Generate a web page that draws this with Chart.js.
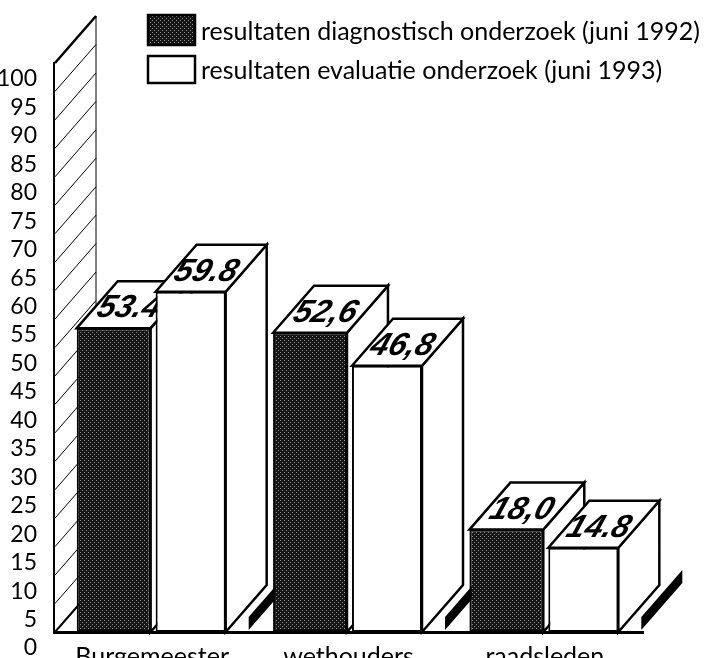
<!DOCTYPE html>
<html>
<head>
<meta charset="utf-8">
<title>Resultaten onderzoek</title>
<script src="https://cdn.jsdelivr.net/npm/chart.js@4"></script>
<style>
  html, body { margin: 0; padding: 0; background: #fff; }
  canvas { display: block; }
</style>
</head>
<body>
<canvas id="barChart" width="724" height="658"></canvas>
<script>
// Data
const categories = ["Burgemeester", "wethouders", "raadsleden"];
const diagnostisch = [53.4, 52.6, 18.0];
const evaluatie = [59.8, 46.8, 14.8];
const diagnostischLabels = ["53.4", "52,6", "18,0"];
const evaluatieLabels = ["59.8", "46,8", "14.8"];
const seriesNames = [
  "resultaten diagnostisch onderzoek (juni 1992)",
  "resultaten evaluatie onderzoek (juni 1993)"
];

const depthX = 41;
const depthY = 47;
const textFont = "Lato";

// Dotted raster of the dark bars
function dotPattern() {
  const c = document.createElement("canvas");
  c.width = 4;
  c.height = 4;
  const p = c.getContext("2d");
  p.fillStyle = "#161616";
  p.fillRect(0, 0, 4, 4);
  p.fillStyle = "#8c8c8c";
  p.fillRect(0, 0, 1, 1);
  p.fillRect(2, 2, 1, 1);
  return p.createPattern(c, "repeat");
}
const darkFill = dotPattern();

function poly(ctx, pts, fill, stroke, width) {
  ctx.beginPath();
  pts.forEach((p, i) => (i ? ctx.lineTo(p[0], p[1]) : ctx.moveTo(p[0], p[1])));
  ctx.closePath();
  if (fill) {
    ctx.fillStyle = fill;
    ctx.fill();
  }
  if (stroke) {
    ctx.strokeStyle = stroke;
    ctx.lineWidth = width;
    ctx.lineJoin = "miter";
    ctx.stroke();
  }
}

// Back wall, floor strips, bar sides and tops go under the bar fronts
const box3d = {
  id: "box3d",
  beforeDatasetsDraw(chart) {
    const ctx = chart.ctx;
    const y = chart.scales.y;
    const left = chart.chartArea.left + 1;
    const bottom = y.getPixelForValue(0);
    const top = y.getPixelForValue(100);
    ctx.save();

    // wall
    poly(ctx, [[left, top], [left + depthX, top - depthY], [left + depthX, bottom - depthY], [left, bottom]], "#fff", null, 0);
    ctx.strokeStyle = "#000";
    ctx.lineWidth = 1;
    y.ticks.forEach(t => {
      const py = y.getPixelForValue(t.value);
      ctx.lineWidth = t.value === 0 ? 2 : 1;
      ctx.beginPath();
      ctx.moveTo(left, py);
      ctx.lineTo(left + depthX, py - depthY);
      ctx.stroke();
    });
    ctx.lineWidth = 1;
    ctx.beginPath();
    ctx.moveTo(left + depthX, top - depthY);
    ctx.lineTo(left + depthX, bottom - depthY);
    ctx.stroke();
    ctx.lineWidth = 2.5;
    ctx.beginPath();
    ctx.moveTo(left, top);
    ctx.lineTo(left + depthX, top - depthY);
    ctx.stroke();

    // black floor strips, each starts right of a white bar
    chart.getDatasetMeta(1).data.forEach(bar => {
      const x0 = bar.x + bar.width / 2 + 23;
      poly(ctx, [
        [x0, bottom - 15],
        [x0 + depthX, bottom - 15 - depthY],
        [x0 + depthX, bottom - 2 - depthY],
        [x0, bottom - 2]
      ], "#000", null, 0);
    });

    // sides and tops, dark series first
    const labelSets = [diagnostischLabels, evaluatieLabels];
    [0, 1].forEach(d => {
      chart.getDatasetMeta(d).data.forEach((bar, i) => {
        const x1 = bar.x - bar.width / 2;
        const x2 = bar.x + bar.width / 2;
        poly(ctx, [[x2, bar.y], [x2 + depthX, bar.y - depthY], [x2 + depthX, bar.base - depthY], [x2, bar.base]], "#fff", "#000", 2.5);
        poly(ctx, [[x1, bar.y], [x1 + depthX, bar.y - depthY], [x2 + depthX, bar.y - depthY], [x2, bar.y]], "#fff", "#000", 2.5);
        ctx.save();
        ctx.transform(1, 0, -0.35, 1, (x1 + x2 + depthX) / 2 - 5, bar.y - depthY / 2 + 4);
        ctx.fillStyle = "#000";
        ctx.font = "italic bold 32px 'Liberation Sans'";
        ctx.textAlign = "center";
        ctx.textBaseline = "middle";
        ctx.fillText(labelSets[d][i], 0, 0);
        ctx.restore();
      });
    });
    ctx.restore();
  },
  afterDraw(chart) {
    // legend, two rows with the same left edge
    const ctx = chart.ctx;
    const rows = [
      { y: 15, h: 30, base: 40, w: 519 },
      { y: 56, h: 27, base: 79, w: 482 }
    ];
    ctx.save();
    rows.forEach((r, i) => {
      const ds = chart.data.datasets[i];
      ctx.fillStyle = ds.backgroundColor;
      ctx.strokeStyle = "#000";
      ctx.lineWidth = 2.5;
      ctx.fillRect(148, r.y, 47, r.h);
      ctx.strokeRect(148, r.y, 47, r.h);
      ctx.fillStyle = "#000";
      ctx.font = "25px " + textFont;
      ctx.textBaseline = "alphabetic";
      ctx.fillText(ds.label, 201, r.base, r.w);
    });
    ctx.restore();
  }
};

new Chart(document.getElementById("barChart"), {
  type: "bar",
  data: {
    labels: categories,
    datasets: [{
      label: seriesNames[0],
      data: diagnostisch,
      backgroundColor: darkFill,
      borderColor: "#000",
      borderWidth: 2,
      borderSkipped: false,
      categoryPercentage: 0.784,
      barPercentage: 0.96
    }, {
      label: seriesNames[1],
      data: evaluatie,
      backgroundColor: "#fff",
      borderColor: "#000",
      borderWidth: 2,
      borderSkipped: false,
      categoryPercentage: 0.784,
      barPercentage: 0.91
    }]
  },
  options: {
    responsive: false,
    animation: false,
    layout: { padding: { top: 63, right: 81, left: 0, bottom: 0 } },
    plugins: { legend: { display: false }, tooltip: { enabled: false } },
    scales: {
      x: {
        grid: { display: false },
        border: { display: true, color: "#000", width: 3 },
        ticks: { color: "#000", padding: 2, font: { family: textFont, size: 25 }, maxRotation: 0 },
        afterFit(s) { s.height = 26; }
      },
      y: {
        min: 0,
        max: 100,
        grid: { display: false },
        border: { display: true, color: "#000", width: 3 },
        ticks: {
          stepSize: 5,
          autoSkip: false,
          color: "#000",
          padding: 9,
          labelOffset: 16,
          font: { family: textFont, size: 23 }
        },
        afterFit(s) { s.width = 54; }
      }
    }
  },
  plugins: [box3d]
});
</script>
</body>
</html>
